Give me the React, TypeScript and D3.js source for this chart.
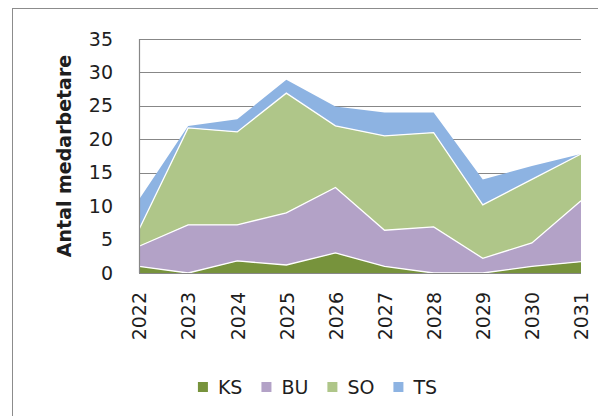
import React, { useEffect, useRef } from 'react'
import * as d3 from 'd3'

// years on the x axis
const years = ['2022', '2023', '2024', '2025', '2026', '2027', '2028', '2029', '2030', '2031']

// series values (stacked)
const ks = [1, 0, 1.8, 1.2, 3, 1, 0, 0, 1, 1.7]
const bu = [3, 7.2, 5.4, 7.8, 9.8, 5.4, 6.9, 2.2, 3.5, 9.1]
const so = [2.5, 14.5, 13.9, 17.9, 9.2, 14.1, 14.1, 8.0, 9.5, 7.0]
const ts = [4.5, 0.3, 1.9, 2, 2.9, 3.5, 3, 3.8, 2, 0]

const seriesNames = ['KS', 'BU', 'SO', 'TS']
const seriesColors = ['#77933C', '#B3A2C7', '#AFC689', '#8DB3E2']

const yTicks = [0, 5, 10, 15, 20, 25, 30, 35]
const yTitle = 'Antal medarbetare'

export default function App() {
    const ref = useRef<SVGSVGElement>(null)

    useEffect(() => {
        const dimensions = { width: 598, height: 416 }
        const margin = { top: 39, right: 17, bottom: 143, left: 139 }
        const graphWidth = dimensions.width - margin.left - margin.right
        const graphHeight = dimensions.height - margin.top - margin.bottom
        const font = '"DejaVu Sans", Verdana, sans-serif'
        const textColor = '#1e1e1e'
        const gridColor = '#878787'

        const svg = d3.select(ref.current)
        svg.selectAll('*').remove()

        // outer chart border
        svg.append('rect')
            .attr('x', 12.5)
            .attr('y', 8.5)
            .attr('width', 600)
            .attr('height', 420)
            .attr('fill', '#fff')
            .attr('stroke', '#8c8c8c')

        const graph = svg.append('g')
            .attr('transform', `translate(${margin.left}, ${margin.top})`)

        // scales
        const x = d3.scalePoint<string>().domain(years).range([0, graphWidth])
        const y = d3.scaleLinear().domain([0, 35]).range([graphHeight, 0])

        // gridlines
        graph.selectAll('line.grid')
            .data(yTicks)
            .enter()
            .append('line')
            .attr('class', 'grid')
            .attr('x1', 0)
            .attr('x2', graphWidth)
            .attr('y1', d => Math.round(y(d)) + 0.5)
            .attr('y2', d => Math.round(y(d)) + 0.5)
            .attr('stroke', gridColor)
            .attr('stroke-width', 1.2)

        // stacked data
        const rows = years.map((yr, i) => ({ year: yr, KS: ks[i], BU: bu[i], SO: so[i], TS: ts[i] }))
        const stacked = d3.stack<any>().keys(seriesNames)(rows)

        const area = d3.area<any>()
            .x(d => x(d.data.year) as number)
            .y0(d => y(d[0]))
            .y1(d => y(d[1]))

        const topLine = d3.line<any>()
            .x(d => x(d.data.year) as number)
            .y(d => y(d[1]))

        graph.selectAll('path.area')
            .data(stacked)
            .enter()
            .append('path')
            .attr('class', 'area')
            .attr('fill', (d, i) => seriesColors[i])
            .attr('d', area)

        // white edges between the layers
        graph.selectAll('path.edge')
            .data(stacked.slice(0, 3))
            .enter()
            .append('path')
            .attr('class', 'edge')
            .attr('fill', 'none')
            .attr('stroke', '#fff')
            .attr('stroke-width', 1.3)
            .attr('d', topLine)

        // axis lines
        graph.append('line')
            .attr('x1', 0.5).attr('x2', 0.5)
            .attr('y1', 0).attr('y2', graphHeight)
            .attr('stroke', gridColor)
            .attr('stroke-width', 1.2)
        graph.append('line')
            .attr('x1', 0).attr('x2', graphWidth)
            .attr('y1', graphHeight + 0.5).attr('y2', graphHeight + 0.5)
            .attr('stroke', gridColor)
            .attr('stroke-width', 1.2)

        // y axis labels
        const yAxis = d3.axisLeft(y).tickValues(yTicks).tickSize(0).tickPadding(26)
        const yAxisGroup = graph.append('g').call(yAxis)
        yAxisGroup.select('.domain').remove()
        yAxisGroup.selectAll('text')
            .attr('font-family', font)
            .attr('font-size', 19)
            .attr('fill', textColor)

        // x axis labels, rotated
        const xAxis = d3.axisBottom(x).tickSize(0)
        const xAxisGroup = graph.append('g')
            .attr('transform', `translate(0, ${graphHeight})`)
            .call(xAxis)
        xAxisGroup.select('.domain').remove()
        xAxisGroup.selectAll('text')
            .attr('transform', 'rotate(-90)')
            .attr('text-anchor', 'end')
            .attr('x', -19)
            .attr('y', 0)
            .attr('dy', '0.36em')
            .attr('font-family', font)
            .attr('font-size', 19)
            .attr('fill', textColor)

        // y title
        svg.append('text')
            .attr('transform', `translate(64, ${margin.top + graphHeight / 2}) rotate(-90)`)
            .attr('text-anchor', 'middle')
            .attr('dy', '0.36em')
            .attr('font-family', font)
            .attr('font-size', 19)
            .attr('font-weight', 'bold')
            .attr('fill', textColor)
            .text(yTitle)

        // legend
        const legend = svg.append('g')
        let cursor = 0
        seriesNames.forEach((name, i) => {
            legend.append('rect')
                .attr('x', cursor)
                .attr('y', -5)
                .attr('width', 10)
                .attr('height', 10)
                .attr('fill', seriesColors[i])
            const label = legend.append('text')
                .attr('x', cursor + 20)
                .attr('dy', '0.36em')
                .attr('font-family', font)
                .attr('font-size', 19)
                .attr('fill', textColor)
                .text(name)
            const w = (label.node() as SVGTextElement).getComputedTextLength()
            cursor += 20 + w + (i < seriesNames.length - 1 ? 19 : 0)
        })
        legend.attr('transform', `translate(${317.5 - cursor / 2}, 387)`)
    }, [])

    return (
        <svg ref={ref} width={598} height={416} style={{ position: 'absolute', left: 0, top: 0 }} />
    )
}
